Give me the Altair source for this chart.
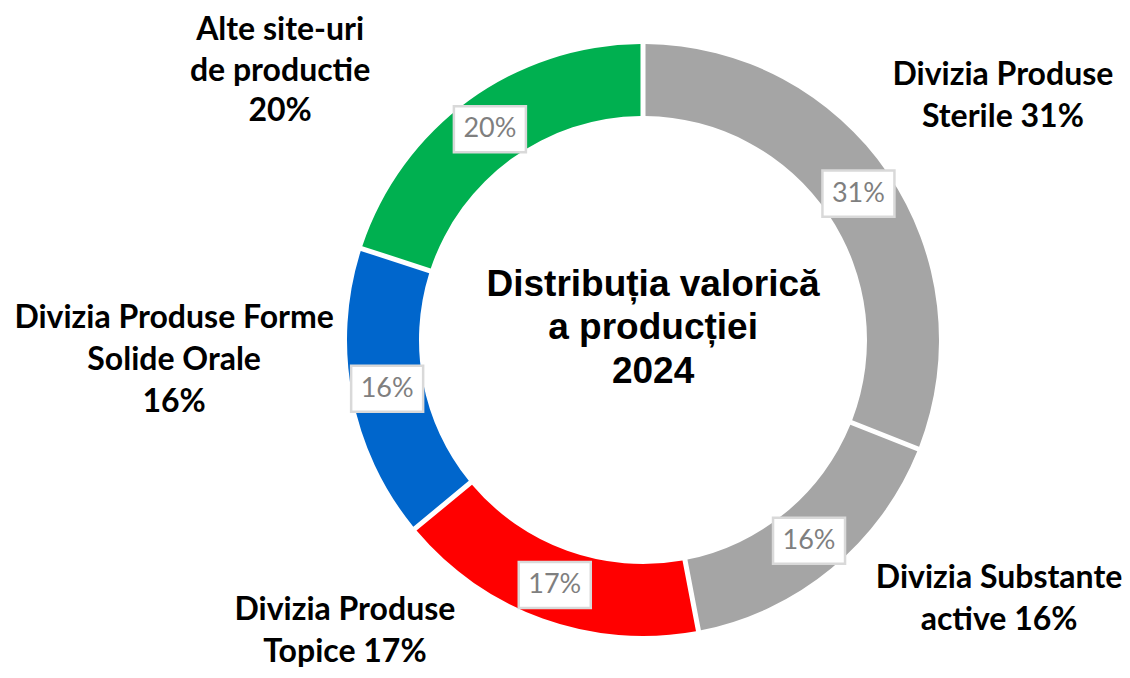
import altair as alt
import pandas as pd

# ---- data ----
CATEGORIES = [
    "Divizia Produse Sterile",
    "Divizia Substante active",
    "Divizia Produse Topice",
    "Divizia Produse Forme Solide Orale",
    "Alte site-uri de productie",
]
VALUES = [31, 16, 17, 16, 20]
COLORS = ["#A5A5A5", "#A5A5A5", "#FF0000", "#0066CC", "#00B050"]
OUTER_LINES = [
    ["Divizia Produse", "Sterile 31%"],
    ["Divizia Substante", "active 16%"],
    ["Divizia Produse", "Topice 17%"],
    ["Divizia Produse Forme", "Solide Orale", "16%"],
    ["Alte site-uri", "de productie", "20%"],
]
TITLE_LINES = ["Distribuția valorică", "a producției", "2024"]

# ---- layout (annotation anchors of first text line, chart units, ring radius = 1) ----
LABEL_X = [1.216, 1.203, -1.007, -1.584, -1.226]
LABEL_Y = [0.895, -0.804, -0.912, 0.074, 1.047]
TITLE_X, TITLE_Y = 0.034, 0.186
R_OUT = 296
R_IN = 224
R_LABEL = 0.88
LABEL_PITCH = 42 / R_OUT
ALTE_PITCH = 40.5 / R_OUT
TITLE_PITCH = 43.5 / R_OUT

df = pd.DataFrame({
    "idx": list(range(len(CATEGORIES))),
    "category": CATEGORIES,
    "value": VALUES,
})

label_rows = []
for i, lines in enumerate(OUTER_LINES):
    pitch = ALTE_PITCH if i == 4 else LABEL_PITCH
    for j, t in enumerate(lines):
        label_rows.append({"t": t, "x": LABEL_X[i], "y": LABEL_Y[i] - j * pitch})
label_df = pd.DataFrame(label_rows)

title_df = pd.DataFrame([
    {"t": t, "x": TITLE_X, "y": TITLE_Y - j * TITLE_PITCH} for j, t in enumerate(TITLE_LINES)
])

xs = alt.Scale(domain=[-1, 1])
ys = alt.Scale(domain=[-1, 1])

base = alt.Chart(df)

arcs = base.mark_arc(innerRadius=R_IN, outerRadius=R_OUT, padAngle=0.0135).encode(
    theta=alt.Theta("value:Q", stack=True),
    order=alt.Order("idx:Q"),
    color=alt.Color("category:N", scale=alt.Scale(domain=CATEGORIES, range=COLORS), legend=None),
)

pos = base.transform_joinaggregate(total="sum(value)").transform_window(
    cum="sum(value)", sort=[alt.SortField("idx")]
).transform_calculate(
    ang="(datum.cum - datum.value/2) / datum.total * 2 * PI",
    bx=f"{R_LABEL} * sin(datum.ang)",
    by=f"{R_LABEL} * cos(datum.ang)",
    pct="datum.value + '%'",
)

boxes = pos.mark_point(
    shape="M-1,-0.64L1,-0.64L1,0.64L-1,0.64Z",
    size=5184,
    filled=True,
    fill="white",
    stroke="#D9D9D9",
    strokeWidth=2.5,
    opacity=1,
).encode(
    x=alt.X("bx:Q", scale=xs, axis=None),
    y=alt.Y("by:Q", scale=ys, axis=None),
)

pct = pos.mark_text(font="Lato", fontSize=27, color="#7F7F7F", baseline="middle", align="center").encode(
    x=alt.X("bx:Q", scale=xs, axis=None),
    y=alt.Y("by:Q", scale=ys, axis=None),
    text="pct:N",
)

outer = alt.Chart(label_df).mark_text(
    font="Lato", fontSize=32, fontWeight="bold", color="black",
    baseline="middle", align="center",
).encode(
    x=alt.X("x:Q", scale=xs, axis=None),
    y=alt.Y("y:Q", scale=ys, axis=None),
    text="t:N",
)

title = alt.Chart(title_df).mark_text(
    font="Liberation Sans", fontSize=37, fontWeight="bold", color="black",
    baseline="middle", align="center",
).encode(
    x=alt.X("x:Q", scale=xs, axis=None),
    y=alt.Y("y:Q", scale=ys, axis=None),
    text="t:N",
)

chart = alt.layer(arcs, boxes, pct, outer, title).properties(
    width=2 * R_OUT,
    height=2 * R_OUT,
    autosize=alt.AutoSizeParams(type="none"),
    padding={"left": 339, "top": 36, "right": 183, "bottom": 34},
).configure_view(stroke=None)

chart.save("out.html", embed_options={"renderer": "svg", "actions": False})
